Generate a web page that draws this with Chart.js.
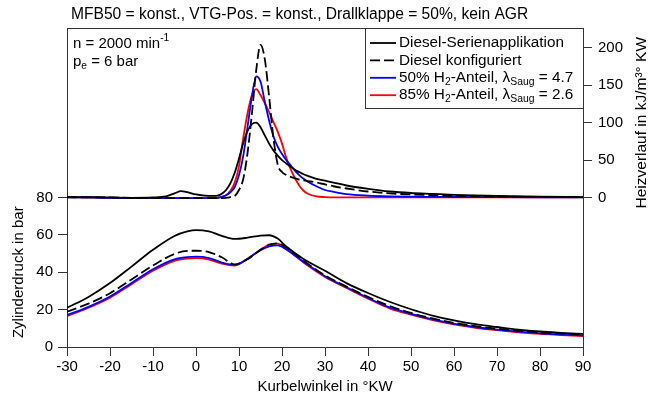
<!DOCTYPE html>
<html>
<head>
<meta charset="utf-8">
<script src="https://cdn.jsdelivr.net/npm/chart.js@4.4.0/dist/chart.umd.min.js"></script>
<style>
  html, body { margin: 0; padding: 0; background: #fff; }
  #wrap { width: 648px; height: 400px; }
</style>
</head>
<body>
<div id="wrap"><canvas id="chart" width="648" height="400"></canvas></div>
<script>
// ---------------------
// Daten
// ---------------------
const xTicks = [-30, -20, -10, 0, 10, 20, 30, 40, 50, 60, 70, 80, 90];
const druckTicks = [0, 20, 40, 60, 80];
const heizTicks = [0, 50, 100, 150, 200];

// Zylinderdruck in bar
const druckKW = [-30, -25, -20, -15, -10, -5, -2, 0, 3, 6, 9, 12, 15, 17, 19, 21, 25, 30, 35, 40, 45, 50, 55, 60, 65, 70, 75, 80, 85, 90];
const druckSerie  = [21.0, 26.8, 34.2, 43.0, 52.0, 59.4, 61.8, 62.5, 61.8, 59.5, 57.8, 58.5, 59.6, 59.8, 58.0, 53.8, 47.1, 40.8, 34.2, 28.9, 24.2, 20.2, 16.8, 14.2, 12.2, 10.7, 9.3, 8.3, 7.6, 7.0];
const druckKonfig = [18.9, 23.2, 28.8, 36.1, 43.6, 49.8, 51.4, 51.5, 50.8, 48.0, 44.2, 47.0, 52.0, 54.7, 55.5, 53.2, 46.2, 38.3, 32.3, 26.8, 22.0, 18.2, 15.3, 12.9, 11.2, 9.8, 8.7, 7.8, 7.2, 6.7];
const druckH2_50  = [17.1, 21.5, 27.0, 34.3, 41.6, 46.9, 48.1, 48.3, 47.6, 45.2, 43.9, 47.2, 51.8, 53.8, 54.4, 52.2, 45.6, 37.9, 32.0, 26.3, 21.2, 17.7, 14.8, 12.4, 10.7, 9.3, 8.2, 7.3, 6.7, 6.2];
const druckH2_85  = [16.5, 21.0, 26.4, 33.6, 40.8, 46.1, 47.3, 47.5, 46.8, 44.6, 43.6, 47.2, 52.0, 54.8, 55.3, 52.4, 45.2, 37.5, 31.6, 25.9, 20.7, 17.3, 14.4, 12.1, 10.3, 9.0, 7.9, 7.0, 6.4, 5.8];

// Heizverlauf in kJ/m³°KW
const heizKW = [-30, -25, -20, -15, -10, -7, -5, -3.5, -2, 0, 2, 4, 5, 6, 7, 8, 9, 10, 11, 12, 13, 14, 15, 16, 17, 18, 19, 20, 21, 22, 23, 24, 25, 26, 28, 30, 32, 35, 40, 45, 50, 55, 60, 70, 80, 90];
const heizSerie  = [0.5, 0.3, 0, -0.5, 0, 1.5, 5.5, 8.5, 7, 4, 2.5, 2, 2.5, 5, 10, 19, 33, 52, 73, 89, 98, 100, 94, 83, 72, 63, 56, 50, 45.5, 41, 37, 34, 31, 29, 25, 22.5, 20, 16, 11.5, 8, 6, 4.8, 3.6, 2, 1, 0.5];
const heizKonfig = [0.5, 0, 0, -0.5, -1, -1, -1, -1, -1, -1, -1, -1, -1, -1, -0.5, 0.5, 2, 10, 25, 60, 112, 170, 204, 185, 135, 80, 44, 34, 30, 27.5, 25.5, 24, 23, 22, 20, 17.5, 15, 12, 8, 5.5, 4, 3, 2.2, 1.2, 0.8, 0.5];
const heizH2_50  = [0, 0, -0.5, -0.5, -1, -1, -1, -1, -1, -1, -1, -1, -0.5, 0.5, 3, 7, 14, 30, 56, 95, 135, 162, 155, 128, 103, 82, 68, 58, 50, 43, 36, 30, 25, 21, 15, 10, 7.5, 4.5, 2.5, 1.5, 1, 0.8, 0.6, 0.4, 0.3, 0.2];
const heizH2_85  = [0, 0, -0.5, -0.5, -1, -1, -1, -1, -1, -1, -1, -1, -0.5, 1, 3, 9, 20, 42, 80, 113, 137, 145, 137, 126, 114, 101, 88, 72, 53, 38, 26, 16, 9, 5, 1.5, 0.5, 0, 0, 0, 0, 0, 0, 0, 0, 0, 0];

const titel = 'MFB50 = konst., VTG-Pos. = konst., Drallklappe = 50%, kein AGR';
const xTitel = 'Kurbelwinkel in °KW';
const druckTitel = 'Zylinderdruck in bar';
const heizTitel = 'Heizverlauf in kJ/m³° KW';
const infoZeilen = [
  [['n = 2000 min'], ['-1', 'sup']],
  [['p'], ['e', 'sub'], [' = 6 bar']],
];
const legendeZeilen = [
  [['Diesel-Serienapplikation']],
  [['Diesel konfiguriert']],
  [['50% H'], ['2', 'sub'], ['-Anteil, λ'], ['Saug', 'sub'], [' = 4.7']],
  [['85% H'], ['2', 'sub'], ['-Anteil, λ'], ['Saug', 'sub'], [' = 2.6']],
];

// ---------------------
// Linienstile
// ---------------------
const stile = [
  { color: '#000000', dash: [] },
  { color: '#000000', dash: [10, 4] },
  { color: '#0000ff', dash: [] },
  { color: '#ff0000', dash: [] },
];
const FONT = '"Liberation Sans", Arial, sans-serif';
const AXIS = '#333';

const toPts = (xs, ys) => xs.map((x, i) => ({ x, y: ys[i] }));

function ds(xs, ys, s, axis) {
  return {
    data: toPts(xs, ys),
    borderColor: s.color,
    borderDash: s.dash,
    borderWidth: 1.8,
    pointRadius: 0,
    fill: false,
    cubicInterpolationMode: 'monotone',
    yAxisID: axis,
  };
}

const datasets = [
  ds(druckKW, druckSerie, stile[0], 'yP'),
  ds(druckKW, druckKonfig, stile[1], 'yP'),
  ds(druckKW, druckH2_50, stile[2], 'yP'),
  ds(druckKW, druckH2_85, stile[3], 'yP'),
  ds(heizKW, heizSerie, stile[0], 'yH'),
  ds(heizKW, heizKonfig, stile[1], 'yH'),
  ds(heizKW, heizH2_50, stile[2], 'yH'),
  ds(heizKW, heizH2_85, stile[3], 'yH'),
];

// Text mit Hoch-/Tiefstellung
function drawRich(ctx, x, y, parts, size) {
  let cx = x;
  parts.forEach(([t, mode]) => {
    let fs = size, dy = 0;
    if (mode === 'sub') { fs = size * 0.68; dy = size * 0.28; }
    if (mode === 'sup') { fs = size * 0.68; dy = -size * 0.38; }
    ctx.font = fs + 'px ' + FONT;
    ctx.fillText(t, cx, y + dy);
    cx += ctx.measureText(t).width;
  });
}

const annotations = {
  id: 'annotations',
  afterDraw(chart) {
    const ctx = chart.ctx;
    const a = chart.chartArea;
    ctx.save();

    // Rahmen oben
    ctx.strokeStyle = AXIS;
    ctx.lineWidth = 1;
    ctx.beginPath();
    ctx.moveTo(a.left, a.top + 0.5);
    ctx.lineTo(a.right, a.top + 0.5);
    ctx.stroke();

    ctx.fillStyle = '#000';
    ctx.textBaseline = 'middle';
    ctx.textAlign = 'left';
    ctx.font = '15.6px ' + FONT;
    ctx.fillText(titel, 71, 15);

    // Betriebspunkt
    infoZeilen.forEach((z, i) => drawRich(ctx, a.left + 6, 44 + i * 18, z, 15));

    // Legende
    const lx = 365, ly = a.top, lw = a.right - 365, lh = 80;
    ctx.fillStyle = '#fff';
    ctx.fillRect(lx, ly, lw, lh);
    ctx.strokeStyle = AXIS;
    ctx.strokeRect(lx + 0.5, ly + 0.5, lw, lh);
    legendeZeilen.forEach((z, i) => {
      const y = ly + 15 + i * 17.4;
      ctx.strokeStyle = stile[i].color;
      ctx.setLineDash(stile[i].dash);
      ctx.lineWidth = 1.8;
      ctx.beginPath();
      ctx.moveTo(lx + 5, y);
      ctx.lineTo(lx + 31, y);
      ctx.stroke();
      ctx.setLineDash([]);
      ctx.fillStyle = '#000';
      drawRich(ctx, lx + 34, y, z, 15.3);
    });

    // Achsentitel
    ctx.font = '15px ' + FONT;
    ctx.textAlign = 'center';
    ctx.fillText(xTitel, (a.left + a.right) / 2, 387);

    const yP = chart.scales.yP, yH = chart.scales.yH;
    ctx.save();
    ctx.translate(19, (yP.getPixelForValue(0) + yP.getPixelForValue(80)) / 2);
    ctx.rotate(-Math.PI / 2);
    ctx.fillText(druckTitel, 0, 0);
    ctx.restore();

    ctx.save();
    ctx.translate(642, (yH.getPixelForValue(0) + yH.getPixelForValue(200)) / 2);
    ctx.rotate(-Math.PI / 2);
    ctx.font = '15.5px ' + FONT;
    ctx.fillText(heizTitel, 0, 0);
    ctx.restore();

    ctx.restore();
  }
};

const tickFont = { family: FONT, size: 15 };

new Chart(document.getElementById('chart'), {
  type: 'line',
  data: { datasets },
  options: {
    responsive: false,
    animation: false,
    devicePixelRatio: 1,
    layout: { padding: { top: 28, left: 0, right: 0, bottom: 0 } },
    plugins: { legend: { display: false }, tooltip: { enabled: false } },
    scales: {
      x: {
        type: 'linear',
        min: -30,
        max: 90,
        afterBuildTicks: s => { s.ticks = xTicks.map(v => ({ value: v })); },
        ticks: { color: '#000', font: tickFont, padding: 2, maxRotation: 0 },
        grid: { drawOnChartArea: false, tickLength: 9, color: AXIS },
        border: { color: AXIS },
        afterFit: s => { s.height = 53; },
      },
      yP: {
        position: 'left',
        min: 0,
        max: 170.67,
        afterBuildTicks: s => { s.ticks = druckTicks.map(v => ({ value: v })); },
        ticks: { color: '#000', font: tickFont, padding: 5 },
        grid: { drawOnChartArea: false, tickLength: 9, color: AXIS },
        border: { color: AXIS },
        afterFit: s => { s.width = 67; },
      },
      yH: {
        position: 'right',
        min: -200,
        max: 226.67,
        afterBuildTicks: s => { s.ticks = heizTicks.map(v => ({ value: v })); },
        ticks: { color: '#000', font: tickFont, padding: 6 },
        grid: { drawOnChartArea: false, tickLength: 9, color: AXIS },
        border: { color: AXIS },
        afterFit: s => { s.width = 65; },
      },
    },
  },
  plugins: [annotations],
});
</script>
</body>
</html>
